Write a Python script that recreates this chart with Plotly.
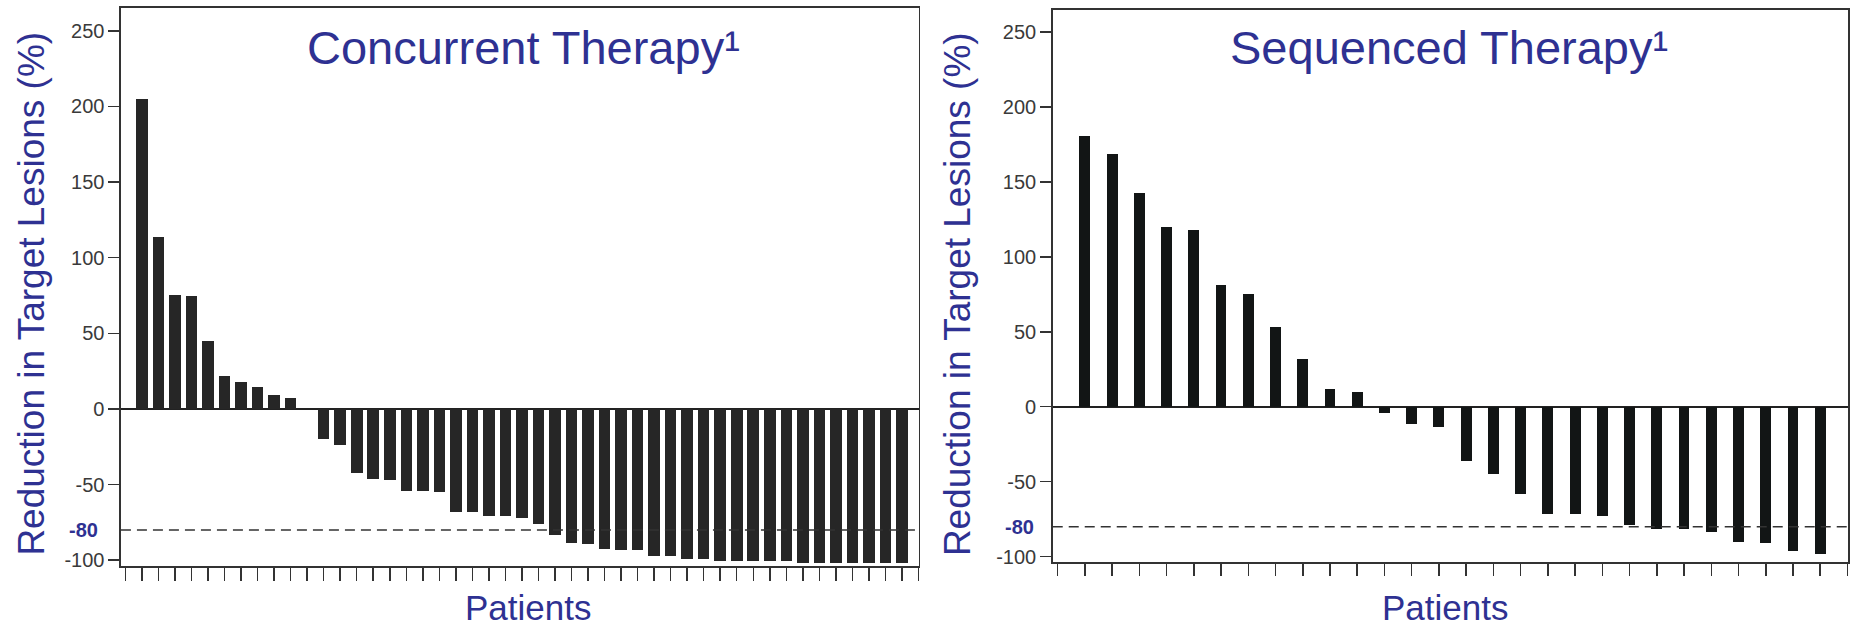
import plotly.graph_objects as go

W, H = 1850, 627

# ---------------- data ----------------
concurrent_values = [205, 114, 75.5, 74.5, 45, 21.5, 17.5, 14.5, 9.5, 7.5, 0,
                     -20, -24, -42, -46, -47, -54, -54, -55,
                     -68, -68, -71, -71, -72, -76, -83, -88.5, -89.5, -92.5,
                     -93.5, -93.5, -97.5, -97.5, -99.5, -99.5,
                     -100.5, -100.5, -100.5, -100.5, -100.5,
                     -101.5, -101.5, -101.5, -101.5, -101.5, -101.5, -101.5]
sequenced_values = [180.5, 168.5, 142.5, 120, 118, 81, 75.5, 53, 32, 12, 9.5,
                    -4, -11.5, -13.5, -36.5, -45, -58, -71.5, -71.5, -73, -79,
                    -81.5, -81.5, -83.5, -90, -91, -96, -98]
concurrent_patients = list(range(1, len(concurrent_values) + 1))
sequenced_patients = list(range(1, len(sequenced_values) + 1))

y_tick_vals = [250, 200, 150, 100, 50, 0, -50, -100]
y_tick_text = ["250", "200", "150", "100", "50", "0", "-50", "-100"]
threshold = -80
threshold_label = "-80"
panel_titles = ["Concurrent Therapy\u00b9", "Sequenced Therapy\u00b9"]
y_title = "Reduction in Target Lesions (%)"
x_title = "Patients"

# ---------------- style ----------------
BLUE = "#2E3192"
FONT = "Liberation Sans, Arial, Helvetica, sans-serif"
AX = "#333333"


def fx(p):
    return p / W


def fy(p):
    return 1 - p / H


fig = go.Figure()
fig.add_trace(go.Bar(x=concurrent_patients, y=concurrent_values, width=0.70,
                     marker=dict(color="#262626", line=dict(width=0)),
                     xaxis="x", yaxis="y", showlegend=False, hoverinfo="skip"))
fig.add_trace(go.Bar(x=sequenced_patients, y=sequenced_values, width=0.40,
                     marker=dict(color="#121515", line=dict(width=0)),
                     xaxis="x2", yaxis="y2", showlegend=False, hoverinfo="skip"))

common_x = dict(showticklabels=False, ticks="outside", tickcolor=AX, tickwidth=1.5,
                showline=True, linecolor=AX, linewidth=1.5, mirror=True,
                showgrid=False, zeroline=False, fixedrange=True)
common_y = dict(tickvals=y_tick_vals, ticktext=y_tick_text, ticks="outside", ticklen=11,
                tickcolor=AX, tickwidth=1.5,
                tickfont=dict(family=FONT, size=20, color="#3a3a3a"),
                showline=True, linecolor=AX, linewidth=1.5, mirror=True,
                showgrid=False, zeroline=True, zerolinecolor="#222222", zerolinewidth=1.6,
                fixedrange=True)

fig.update_layout(
    width=W, height=H,
    margin=dict(l=0, r=0, t=0, b=0),
    paper_bgcolor="white", plot_bgcolor="white",
    bargap=0,
    font=dict(family=FONT),
    xaxis=dict(domain=[fx(121), fx(919)], range=[-0.27, 48.0],
               tickvals=list(range(0, len(concurrent_values) + 2)), ticklen=13,
               anchor="y", **common_x),
    yaxis=dict(domain=[fy(570.7), fy(8)], range=[-103.9, 265.1], anchor="x", **common_y),
    xaxis2=dict(domain=[fx(1053.3), fx(1849)], range=[-0.18, 29.02],
                tickvals=list(range(0, len(sequenced_values) + 2)), ticklen=12,
                anchor="y2", **common_x),
    yaxis2=dict(domain=[fy(567), fy(10)], range=[-103.9, 264.7], anchor="x2", **common_y),
)

# dashed threshold lines
for xr, yr in (("x domain", "y"), ("x2 domain", "y2")):
    fig.add_shape(type="line", xref=xr, yref=yr, x0=0, x1=1, y0=threshold, y1=threshold,
                  line=dict(color="#333333", width=1.5, dash="10px,6px"), layer="above")

ann = []
# panel titles
for txt, xc in zip(panel_titles, (524, 1450)):
    ann.append(dict(text=txt, x=fx(xc), y=fy(48), xref="paper", yref="paper",
                    xanchor="center", yanchor="middle", showarrow=False,
                    font=dict(family=FONT, size=47, color=BLUE)))
# y titles
for xc in (32, 958):
    ann.append(dict(text=y_title, x=fx(xc), y=fy(296), xref="paper", yref="paper",
                    xanchor="center", yanchor="middle", textangle=-90, showarrow=False,
                    font=dict(family=FONT, size=37, color=BLUE)))
# x titles
for xc in (528, 1446):
    ann.append(dict(text=x_title, x=fx(xc), y=0, xref="paper", yref="paper",
                    xanchor="center", yanchor="bottom", yshift=-7, showarrow=False,
                    font=dict(family=FONT, size=35, color=BLUE)))
# -80 labels
for xc, yr in ((100, "y"), (1037, "y2")):
    ann.append(dict(text="<b>" + threshold_label + "</b>", x=fx(xc), y=threshold,
                    xref="paper", yref=yr, xanchor="right", yanchor="middle",
                    showarrow=False, font=dict(family=FONT, size=20, color=BLUE)))
fig.update_layout(annotations=ann)

fig.write_html("out.html", config={"displayModeBar": False, "staticPlot": True},
               post_script="document.body.style.margin='0';document.body.style.overflow='hidden';")
